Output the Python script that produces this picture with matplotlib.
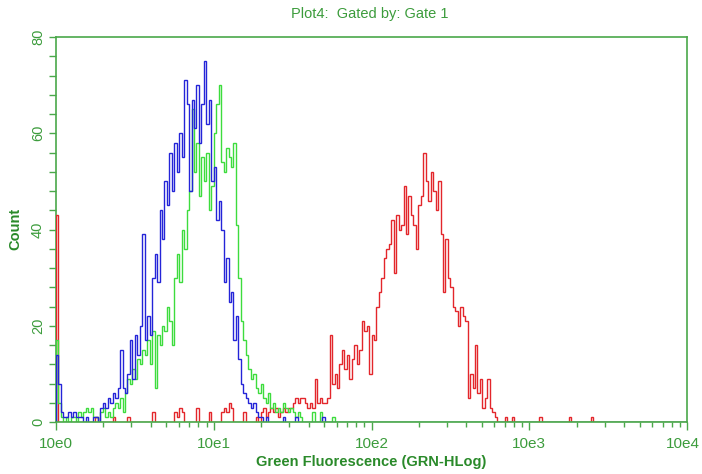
import numpy as np
import matplotlib
matplotlib.use("Agg")
import matplotlib.pyplot as plt
from matplotlib.ticker import LogLocator, NullFormatter, MultipleLocator
from matplotlib.transforms import ScaledTranslation

plt.rcParams['font.family'] = ['Liberation Sans', 'DejaVu Sans']

# ---- data: counts per channel (256 log channels over 4 decades) ----
n_channels = 256
decades = 4

blue_main = [14, 8, 2, 1, 1, 2, 1, 2, 1, 1,
             1, 0, 1, 0, 0, 1, 1, 0, 3, 4,
             3, 5, 4, 6, 5, 7, 15, 7, 6, 10,
             17, 9, 18, 14, 20, 39, 17, 22, 18, 30,
             35, 29, 44, 38, 50, 45, 56, 48, 58, 52,
             60, 55, 71, 66, 48, 67, 61, 70, 58, 66,
             75, 62, 67, 50, 53, 42, 46, 40, 29, 34,
             25, 27, 17, 22, 13, 8, 6, 5, 4, 3,
             4, 2, 1, 1, 0, 1, 0]
blue_extra_ch = [92, 97, 108]
blue_extra_val = [1, 1, 1]

green_main = [17, 4, 1, 0, 1, 0, 1, 1, 0, 2,
              1, 2, 3, 2, 3, 1, 1, 0, 2, 3,
              1, 2, 1, 3, 4, 3, 5, 2, 6, 9,
              8, 11, 9, 13, 12, 15, 14, 17, 12, 19,
              7, 18, 16, 20, 19, 24, 21, 16, 30, 35,
              29, 40, 36, 44, 48, 65, 52, 58, 47, 55,
              50, 56, 44, 49, 60, 66, 70, 54, 52, 57,
              55, 53, 58, 41, 30, 21, 17, 14, 11, 9,
              10, 7, 6, 8, 5, 4, 6, 3, 4, 2,
              3, 2, 4, 3, 2, 3, 2, 1, 2, 1]
green_extra_ch = [104, 107, 112]
green_extra_val = [2, 2, 1]

red_main = [43, 0, 0, 0, 0, 0, 0, 0, 0, 0,
            0, 0, 0, 0, 0, 0, 1, 0, 0, 0,
            0, 0, 0, 1, 0, 0, 0, 0, 0, 1,
            0, 0, 0, 0, 0, 0, 0, 0, 0, 2,
            0, 0, 0, 0, 0, 0, 0, 0, 2, 1,
            3, 2, 0, 0, 0, 0, 0, 3, 0, 0,
            0, 0, 2, 0, 0, 0, 0, 2, 3, 2,
            4, 3, 0, 0, 0, 0, 2, 0, 0, 0,
            0, 1, 0, 2, 3, 1, 2, 3, 2, 3,
            1, 2, 3, 2, 3, 3, 4, 5, 4, 5,
            5, 4, 3, 4, 3, 9, 4, 5, 4, 4,
            5, 18, 8, 10, 7, 12, 15, 11, 14, 9,
            13, 16, 12, 15, 21, 19, 20, 10, 18, 17,
            24, 27, 30, 34, 36, 37, 42, 31, 43, 40,
            41, 49, 39, 47, 43, 41, 36, 45, 47, 56,
            50, 46, 52, 48, 44, 50, 39, 27, 38, 30,
            28, 24, 23, 20, 24, 22, 21, 5, 10, 7,
            16, 6, 9, 3, 5, 9, 3, 2, 1, 0]
red_extra_ch = [182, 185, 196, 208, 217]
red_extra_val = [1, 1, 1, 1, 1]

x_tick_values = [1, 10, 100, 1000, 10000]
x_tick_labels = ['10e0', '10e1', '10e2', '10e3', '10e4']
y_tick_values = [0, 20, 40, 60, 80]

title_text = 'Plot4:  Gated by: Gate 1'
xlabel_text = 'Green Fluorescence (GRN-HLog)'
ylabel_text = 'Count'

# ---- build ----
def build(main, ch, val):
    arr = np.zeros(n_channels)
    arr[:len(main)] = main
    arr[ch] = val
    return arr

blue = build(blue_main, blue_extra_ch, blue_extra_val)
green = build(green_main, green_extra_ch, green_extra_val)
red = build(red_main, red_extra_ch, red_extra_val)
edges = np.logspace(0, decades, n_channels + 1)

axis_green = '#4aa84a'
text_green = '#3c9c3c'
label_green = '#2a8a2a'

fig = plt.figure(figsize=(7.02, 4.74), dpi=100)
ax = fig.add_axes([56 / 702, 52 / 474, 631 / 702, 385 / 474])

ax.stairs(red, edges, baseline=0, color='#e3262b', lw=1.0, zorder=3)
ax.stairs(green, edges, baseline=0, color='#3ddc3d', lw=1.0, zorder=3.1)
ax.stairs(blue, edges, baseline=0, color='#2424d8', lw=1.0, zorder=3.2)

ax.set_xscale('log')
ax.set_xlim(1, 10000)
ax.set_ylim(0, 80)

ax.set_xticks(x_tick_values)
ax.set_xticklabels(x_tick_labels)
ax.xaxis.set_minor_locator(LogLocator(base=10, subs=np.arange(2, 10)))
ax.xaxis.set_minor_formatter(NullFormatter())
ax.set_yticks(y_tick_values)
ax.set_yticklabels([str(v) for v in y_tick_values], rotation=90, va='center')
ax.yaxis.set_minor_locator(MultipleLocator(4))

for s in ax.spines.values():
    s.set_color(axis_green)
    s.set_linewidth(1.2)
ax.spines['bottom'].set_zorder(5)

ax.tick_params(axis='both', which='both', direction='out', colors=axis_green,
               labelcolor=text_green, top=False, right=False, width=1.0)
ax.tick_params(axis='x', which='major', length=6, pad=5, labelsize=11)
ax.tick_params(axis='x', which='minor', length=3.5)
ax.tick_params(axis='y', which='major', length=5, pad=3, labelsize=10.5)
ax.tick_params(axis='y', which='minor', length=5)

last_label = ax.get_xticklabels()[-1]
last_label.set_transform(last_label.get_transform() +
                         ScaledTranslation(-4 / 100, 0, fig.dpi_scale_trans))

fig.text(370 / 702, 1 - 14 / 474, title_text, ha='center', va='center',
         color=text_green, fontsize=10.5)
fig.text(371 / 702, 1 - 462 / 474, xlabel_text, ha='center', va='center',
         color=label_green, fontsize=10.5, fontweight='bold')
fig.text(15 / 702, 1 - 229 / 474, ylabel_text, ha='center', va='center',
         rotation=90, color=label_green, fontsize=10.5, fontweight='bold')

fig.savefig('out.png', dpi=100)
